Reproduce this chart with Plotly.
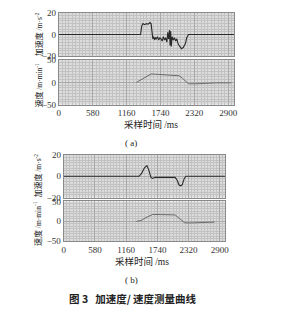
import plotly.graph_objects as go

# ---------------- data ----------------
x_ticks = [0, 580, 1160, 1740, 2320, 2900]

# (a) acceleration, m/s^2
a_acc_t = [0, 1400, 1420, 1440, 1470, 1500, 1530, 1560, 1580, 1595, 1610, 1625, 1640, 1655,
           1670, 1690, 1710, 1730, 1750, 1770, 1790, 1810, 1830, 1850, 1865, 1880, 1895,
           1905, 1915, 1925, 1940, 1960, 1980, 2000, 2020, 2045, 2070, 2100, 2130, 2150,
           2170, 2190, 2205, 2220, 2300, 3000]
a_acc_v = [0, 0, 8, 10, 9, 10, 9.5, 11, 10, -2, -4, -2, -5, -3,
           -4, -2, -5, -3, -4, -6, -2, -5, -3, -7, 2, -4, 4,
           -10, 3, -11, -2, -5, -3, -6, -4, -9, -11, -13, -12, -10,
           -8, -3, -1, 0, 0, 0]

# (a) velocity, m/min
a_vel_t = [1330, 1380, 1440, 1500, 1580, 1650, 1750, 1850, 1950, 2060, 2120, 2170, 2220, 2350,
           2500, 2700, 2950]
a_vel_v = [0, 4, 9, 14, 19, 18.5, 17.5, 17, 16, 15, 9, 2, -3, -3,
           -2, -1, -1]

# (b) acceleration, m/s^2
b_acc_t = [0, 1400, 1450, 1500, 1545, 1580, 1620, 1650, 1700, 1800, 1900, 2000, 2070,
           2110, 2140, 2170, 2200, 2240, 2270, 3000]
b_acc_v = [0, 0, 3, 8, 10, 6, -1, -2, -1, -1, -1, -1, -1,
           -4, -8, -9, -8, -2, 0, 0]

# (b) velocity, m/min
b_vel_t = [1350, 1440, 1520, 1600, 1650, 1800, 1950, 2070, 2150, 2250, 2400, 2600, 2800]
b_vel_v = [0, 2, 9, 15, 17, 17, 16.5, 16, 7, -4, -4, -3, -2]

W, H = 287, 310
SERIF = "Liberation Serif"
CJK = "Noto Sans CJK SC"


def px(x):
    return x / W


def py(y):
    return 1 - y / H


fig = go.Figure()
acc_col = "#2a2a2a"
vel_col = "#6a6a6a"
fig.add_trace(go.Scatter(x=a_acc_t, y=a_acc_v, mode="lines", xaxis="x", yaxis="y",
                         line=dict(color=acc_col, width=1.1), showlegend=False))
fig.add_trace(go.Scatter(x=a_vel_t, y=a_vel_v, mode="lines", xaxis="x2", yaxis="y2",
                         line=dict(color=vel_col, width=1), showlegend=False))
fig.add_trace(go.Scatter(x=b_acc_t, y=b_acc_v, mode="lines", xaxis="x3", yaxis="y3",
                         line=dict(color=acc_col, width=1.1), showlegend=False))
fig.add_trace(go.Scatter(x=b_vel_t, y=b_vel_v, mode="lines", xaxis="x4", yaxis="y4",
                         line=dict(color=vel_col, width=1), showlegend=False))

grid_major = "#a9a9a9"
grid_minor = "#c2c2c2"
tick_font = dict(family=SERIF, size=9, color="#333")


def xaxis(domain, anchor, labels):
    return dict(domain=domain, anchor=anchor, range=[0, 3000], tickvals=x_ticks,
                showticklabels=labels, tickfont=tick_font, showgrid=True,
                gridcolor=grid_major, gridwidth=0.8, zeroline=False,
                showline=True, linecolor="#8a8a8a", linewidth=1, mirror=True,
                minor=dict(dtick=58, tick0=0, showgrid=True, gridcolor=grid_minor, gridwidth=0.6),
                fixedrange=True)


def yaxis(domain, anchor, rng, vals, mdt):
    return dict(domain=domain, anchor=anchor, range=rng, tickvals=vals,
                tickfont=tick_font, showgrid=True, gridcolor=grid_major, gridwidth=0.8,
                zeroline=False, showline=True, linecolor="#8a8a8a", linewidth=1, mirror=True,
                minor=dict(dtick=mdt, tick0=0, showgrid=True, gridcolor=grid_minor, gridwidth=0.6),
                fixedrange=True)


xa = [px(58), px(237)]
xb = [px(63), px(228)]
fig.update_layout(
    width=W, height=H, margin=dict(l=0, r=0, t=0, b=0),
    paper_bgcolor="white", plot_bgcolor="#dcdcdc",
    xaxis=xaxis(xa, "y", False),
    xaxis2=xaxis(xa, "y2", True),
    xaxis3=xaxis(xb, "y3", False),
    xaxis4=xaxis(xb, "y4", True),
    yaxis=yaxis([py(53), py(8)], "x", [-20, 20], [-20, 0, 20], 2.5),
    yaxis2=yaxis([py(103), py(57)], "x2", [-50, 50], [-50, 0, 50], 6.25),
    yaxis3=yaxis([py(199), py(155)], "x3", [-20, 20], [-20, 0, 20], 2.5),
    yaxis4=yaxis([py(244), py(203)], "x4", [-50, 50], [-50, 0, 50], 6.25),
)

ann = []


def text(x, y, s, size=10, angle=0, family=CJK, color="#222"):
    ann.append(dict(x=px(x), y=py(y), xref="paper", yref="paper", text=s, showarrow=False,
                    textangle=angle, xanchor="center", yanchor="middle",
                    font=dict(family=family, size=size, color=color)))


unit_style = "font-family:'Liberation Serif';font-size:7.5px"
acc_title = "加速度 <span style=\"%s\">/m·s<sup>-2</sup></span>" % unit_style
vel_title = "速度 <span style=\"%s\">/m·min<sup>-1</sup></span>" % unit_style
text(37, 30, acc_title, 8, -90)
text(37, 83, vel_title, 8, -90)
text(36, 176, acc_title, 8, -90)
text(36, 226, vel_title, 8, -90)
ms_style = "font-family:'Liberation Serif'"
text(152, 123, "采样时间 <span style=\"%s\">/ms</span>" % ms_style, 9.5)
text(143, 264.5, "采样时间 <span style=\"%s\">/ms</span>" % ms_style, 9.5)
text(132, 143, "( a)", 9, family=SERIF)
text(132, 284, "( b)", 9, family=SERIF)
text(134, 303, "<b>图 3</b>   <b>加速度/ 速度测量曲线</b>", 10.5)
fig.update_layout(annotations=ann)

fig.write_html("out.html")
